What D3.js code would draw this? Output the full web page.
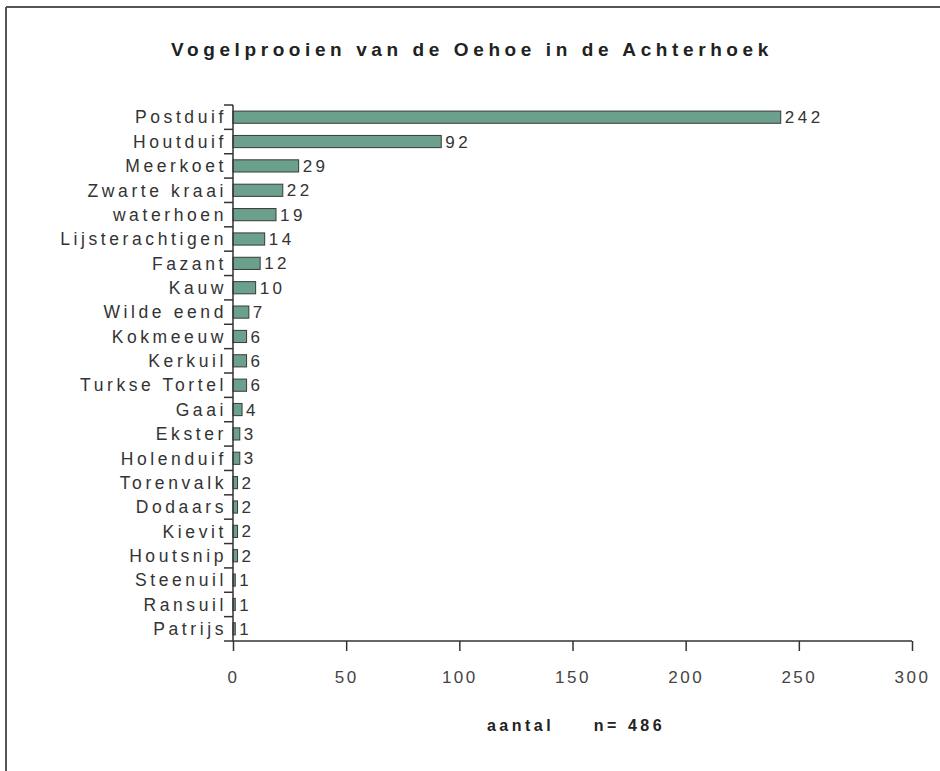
<!DOCTYPE html>
<html>
<head>
<meta charset="utf-8">
<script src="https://cdn.jsdelivr.net/npm/d3@7"></script>
<style>
  body { margin: 0; background: #fff; }
  svg { font-family: "Liberation Sans", Arial, sans-serif; }
</style>
</head>
<body>
<div id="chart"></div>
<script>
// Data
var birds = ["Postduif", "Houtduif", "Meerkoet", "Zwarte kraai", "waterhoen",
  "Lijsterachtigen", "Fazant", "Kauw", "Wilde eend", "Kokmeeuw", "Kerkuil",
  "Turkse Tortel", "Gaai", "Ekster", "Holenduif", "Torenvalk", "Dodaars",
  "Kievit", "Houtsnip", "Steenuil", "Ransuil", "Patrijs"];
var counts = [242, 92, 29, 22, 19, 14, 12, 10, 7, 6, 6, 6, 4, 3, 3, 2, 2, 2, 2, 1, 1, 1];
var xTicks = [0, 50, 100, 150, 200, 250, 300];

var svgWidth = 940;
var svgHeight = 771;

var margin = { top: 105, right: 28, bottom: 130, left: 233 };
var width = svgWidth - margin.left - margin.right;
var height = svgHeight - margin.top - margin.bottom;

var svg = d3.select("#chart")
  .append("svg")
  .attr("width", svgWidth)
  .attr("height", svgHeight);

// frame (only top and left edges show)
svg.append("line").attr("x1", 6).attr("x2", svgWidth).attr("y1", 7).attr("y2", 7)
  .attr("stroke", "#555").attr("stroke-width", 2);
svg.append("line").attr("x1", 6).attr("x2", 6).attr("y1", 7).attr("y2", svgHeight)
  .attr("stroke", "#555").attr("stroke-width", 2);

// title
svg.append("text")
  .attr("x", 472)
  .attr("y", 56)
  .attr("text-anchor", "middle")
  .attr("font-size", 19)
  .attr("font-weight", "bold")
  .attr("letter-spacing", 4.6)
  .attr("fill", "#222")
  .text("Vogelprooien van de Oehoe in de Achterhoek");

var chartGroup = svg.append("g")
  .attr("transform", `translate(${margin.left}, ${margin.top})`);

var x = d3.scaleLinear().domain([0, 300]).range([0, width]);
var y = d3.scaleBand().domain(birds).range([0, height]).paddingInner(0.5).paddingOuter(0.25);

// bars
chartGroup.selectAll("rect.bar")
  .data(counts)
  .enter()
  .append("rect")
  .attr("class", "bar")
  .attr("x", 0)
  .attr("y", (d, i) => y(birds[i]))
  .attr("width", d => x(d))
  .attr("height", y.bandwidth())
  .attr("fill", "#6aa08c")
  .attr("stroke", "#3a3a3a")
  .attr("stroke-width", 1);

// value labels
chartGroup.selectAll("text.val")
  .data(counts)
  .enter()
  .append("text")
  .attr("class", "val")
  .attr("x", d => x(d) + 4)
  .attr("y", (d, i) => y(birds[i]) + y.bandwidth() / 2)
  .attr("dy", "0.36em")
  .attr("font-size", 17)
  .attr("letter-spacing", 3.5)
  .attr("fill", "#333")
  .text(d => d);

// y axis: line + ticks between categories
var step = y.step();
var boundaries = d3.range(birds.length).map(i => i * step);
chartGroup.append("line")
  .attr("x1", 0).attr("x2", 0).attr("y1", 0).attr("y2", height)
  .attr("stroke", "#333").attr("stroke-width", 1.5);
chartGroup.selectAll("line.ytick")
  .data(boundaries)
  .enter()
  .append("line")
  .attr("class", "ytick")
  .attr("x1", -9).attr("x2", 0)
  .attr("y1", d => d).attr("y2", d => d)
  .attr("stroke", "#333").attr("stroke-width", 1.5);

// category labels
chartGroup.selectAll("text.cat")
  .data(birds)
  .enter()
  .append("text")
  .attr("class", "cat")
  .attr("x", -6)
  .attr("y", d => y(d) + y.bandwidth() / 2)
  .attr("dy", "0.36em")
  .attr("text-anchor", "end")
  .attr("font-size", 17.5)
  .attr("letter-spacing", 3.6)
  .attr("fill", "#333")
  .text(d => d);

// x axis
var xAxis = chartGroup.append("g")
  .attr("transform", `translate(0, ${height})`)
  .call(d3.axisBottom(x).tickValues(xTicks).tickSize(10).tickSizeOuter(0).tickPadding(20));
xAxis.select(".domain").attr("stroke", "#333").attr("stroke-width", 1.5).attr("d", `M-9,0H${width}`);
xAxis.selectAll(".tick line").attr("stroke", "#333").attr("stroke-width", 1.5);
xAxis.selectAll(".tick text")
  .attr("font-size", 17)
  .attr("letter-spacing", 2.5)
  .attr("fill", "#444")
  .attr("font-family", "Liberation Sans, Arial, sans-serif");

// x axis title
svg.append("text")
  .attr("x", 576)
  .attr("y", 731)
  .attr("text-anchor", "middle")
  .attr("font-size", 16)
  .attr("font-weight", "bold")
  .attr("letter-spacing", 3.5)
  .attr("fill", "#222")
  .attr("xml:space", "preserve")
  .style("white-space", "pre")
  .text("aantal     n= 486");
</script>
</body>
</html>
